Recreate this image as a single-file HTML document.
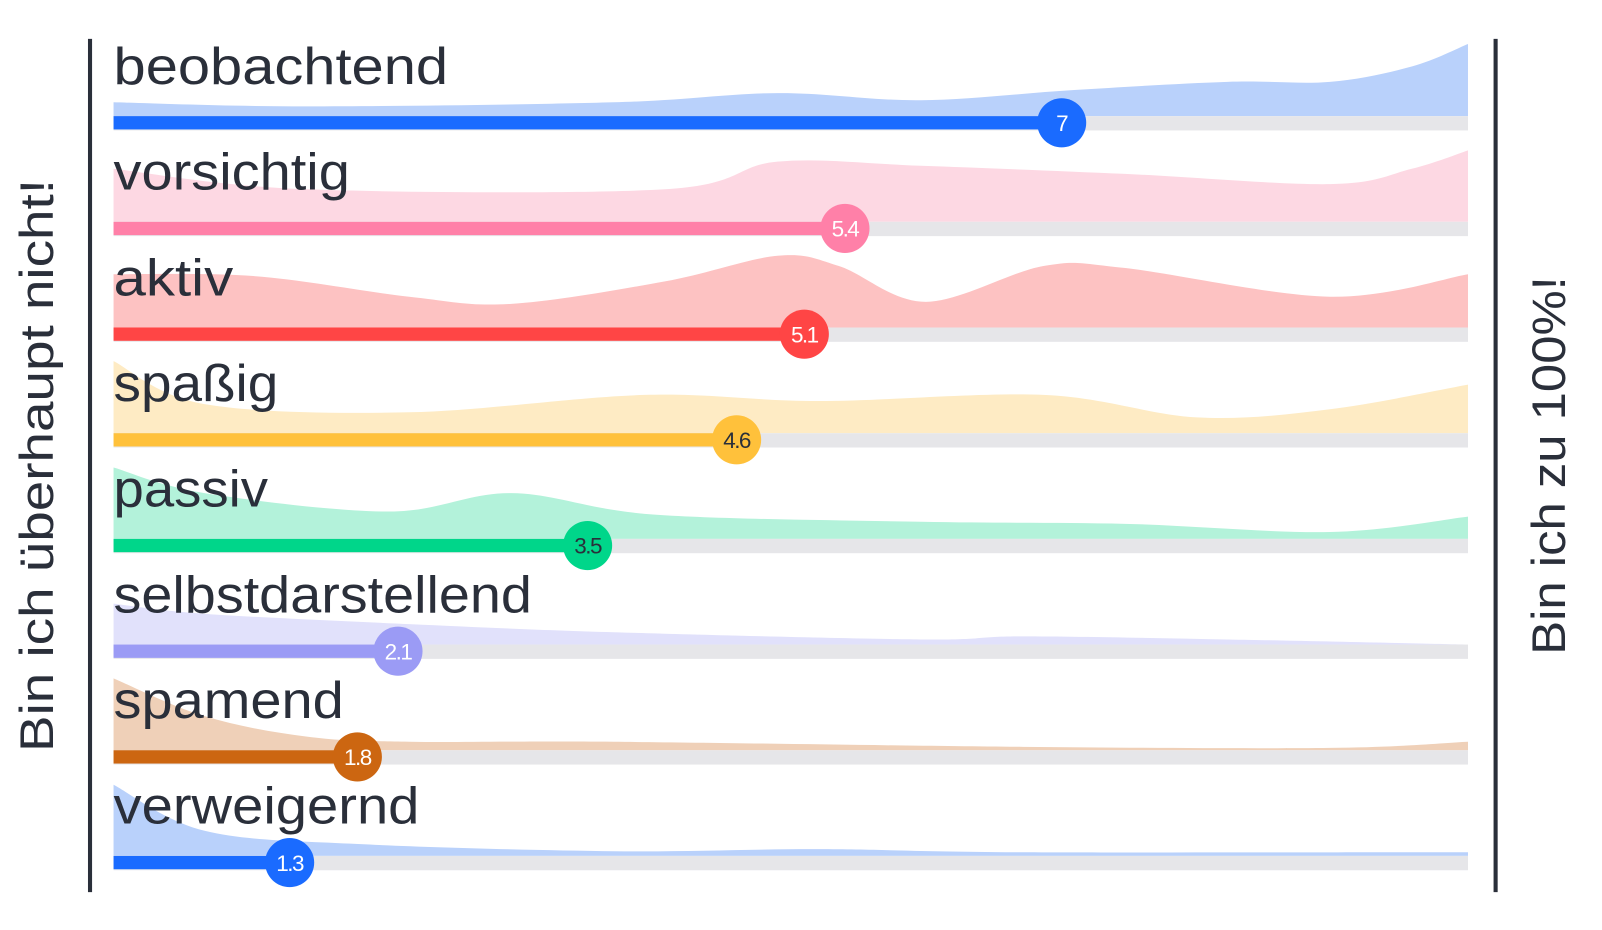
<!DOCTYPE html>
<html><head><meta charset="utf-8"><style>
html,body{margin:0;padding:0;background:#fff;width:1602px;height:930px;overflow:hidden}
svg{display:block}
text{font-family:"Liberation Sans",sans-serif}
</style></head><body>
<svg id="s" width="1602" height="930" viewBox="0 0 1566 909" preserveAspectRatio="none" xmlns="http://www.w3.org/2000/svg">
<line x1="88" y1="38" x2="88" y2="872" stroke="#2a2f3a" stroke-width="4"/>
<line x1="1462" y1="38" x2="1462" y2="872" stroke="#2a2f3a" stroke-width="4"/>
<text transform="translate(52,455) rotate(-90)" text-anchor="middle" font-size="46" fill="#2a2f3a" textLength="560" lengthAdjust="spacingAndGlyphs">Bin ich überhaupt nicht!</text>
<text transform="translate(1530,455) rotate(-90)" text-anchor="middle" font-size="46" fill="#2a2f3a" textLength="370" lengthAdjust="spacingAndGlyphs">Bin ich zu 100%!</text>
</svg>
<script>
var rows=[
["beobachtend",7,"#b9d1fb","#1a6bff","#fff",[[111,100],[300,104],[600,100],[760,91],[900,98],[1050,88],[1200,80],[1300,80],[1380,65],[1435,43]],327],
["vorsichtig",5.4,"#fdd8e3","#ff80a8","#fff",[[111,165],[300,185],[650,185],[760,158],[900,162],[1100,170],[1300,180],[1380,165],[1435,147]],231],
["aktiv",5.1,"#fdc2c2","#ff4545","#fff",[[111,268],[250,270],[400,290],[500,297],[650,275],[760,250],[820,260],[905,295],[1020,260],[1100,262],[1300,290],[1435,268]],117],
["spaßig",4.6,"#feebc4","#ffc13b","#2a2f3a",[[111,353],[200,395],[400,403],[630,386],[800,392],[1020,386],[1170,408],[1300,400],[1435,376]],161],
["passiv",3.5,"#b3f2da","#00d68a","#2a2f3a",[[111,457],[200,482],[380,500],[500,482],[640,503],[900,510],[1100,512],[1300,520],[1435,505]],151],
["selbstdarstellend",2.1,"#e1e1fb","#9b9bf5","#fff",[[111,590],[200,600],[400,610],[600,618],[900,625],[1000,622],[1200,625],[1435,630]],409],
["spamend",1.8,"#efd0b8","#cc6611","#fff",[[111,663],[200,700],[300,720],[400,725],[600,725],[1000,730],[1300,731],[1435,725]],225],
["verweigernd",1.3,"#b9d1fb","#1a6bff","#fff",[[111,767],[200,812],[350,825],[600,832],[800,830],[1000,833],[1435,833]],299]
];
function smooth(p){var d="M"+p[0][0]+","+p[0][1];for(var i=0;i<p.length-1;i++){var p0=p[i-1]||p[i],p1=p[i],p2=p[i+1],p3=p[i+2]||p2;
d+=" C"+(p1[0]+(p2[0]-p0[0])/6)+","+(p1[1]+(p2[1]-p0[1])/6)+" "+(p2[0]-(p3[0]-p1[0])/6)+","+(p2[1]-(p3[1]-p1[1])/6)+" "+p2[0]+","+p2[1];}return d;}
var h="";
rows.forEach(function(r,i){var cy=120+103.3*i,top=cy-6.5,x=111+r[1]*132.4;
h+='<path d="'+smooth(r[5])+' L1435,'+top+' L111,'+top+' Z" fill="'+r[2]+'"/>';
h+='<rect x="111" y="'+top+'" width="1324" height="14" fill="#e6e6e9"/>';
h+='<rect x="111" y="'+top+'" width="'+(x-111)+'" height="13" fill="'+r[3]+'"/>';
h+='<text x="111" y="'+(cy-38)+'" font-size="51" fill="#2a2f3a" textLength="'+r[6]+'" lengthAdjust="spacingAndGlyphs">'+r[0]+'</text>';
h+='<circle cx="'+x+'" cy="'+cy+'" r="24" fill="'+r[3]+'"/>';
h+='<text x="'+x+'" y="'+(cy+8)+'" font-size="22" text-anchor="middle" fill="'+r[4]+'" letter-spacing="-1.5">'+r[1]+'</text>';});
document.getElementById("s").insertAdjacentHTML("beforeend",h);
</script>
</body></html>
